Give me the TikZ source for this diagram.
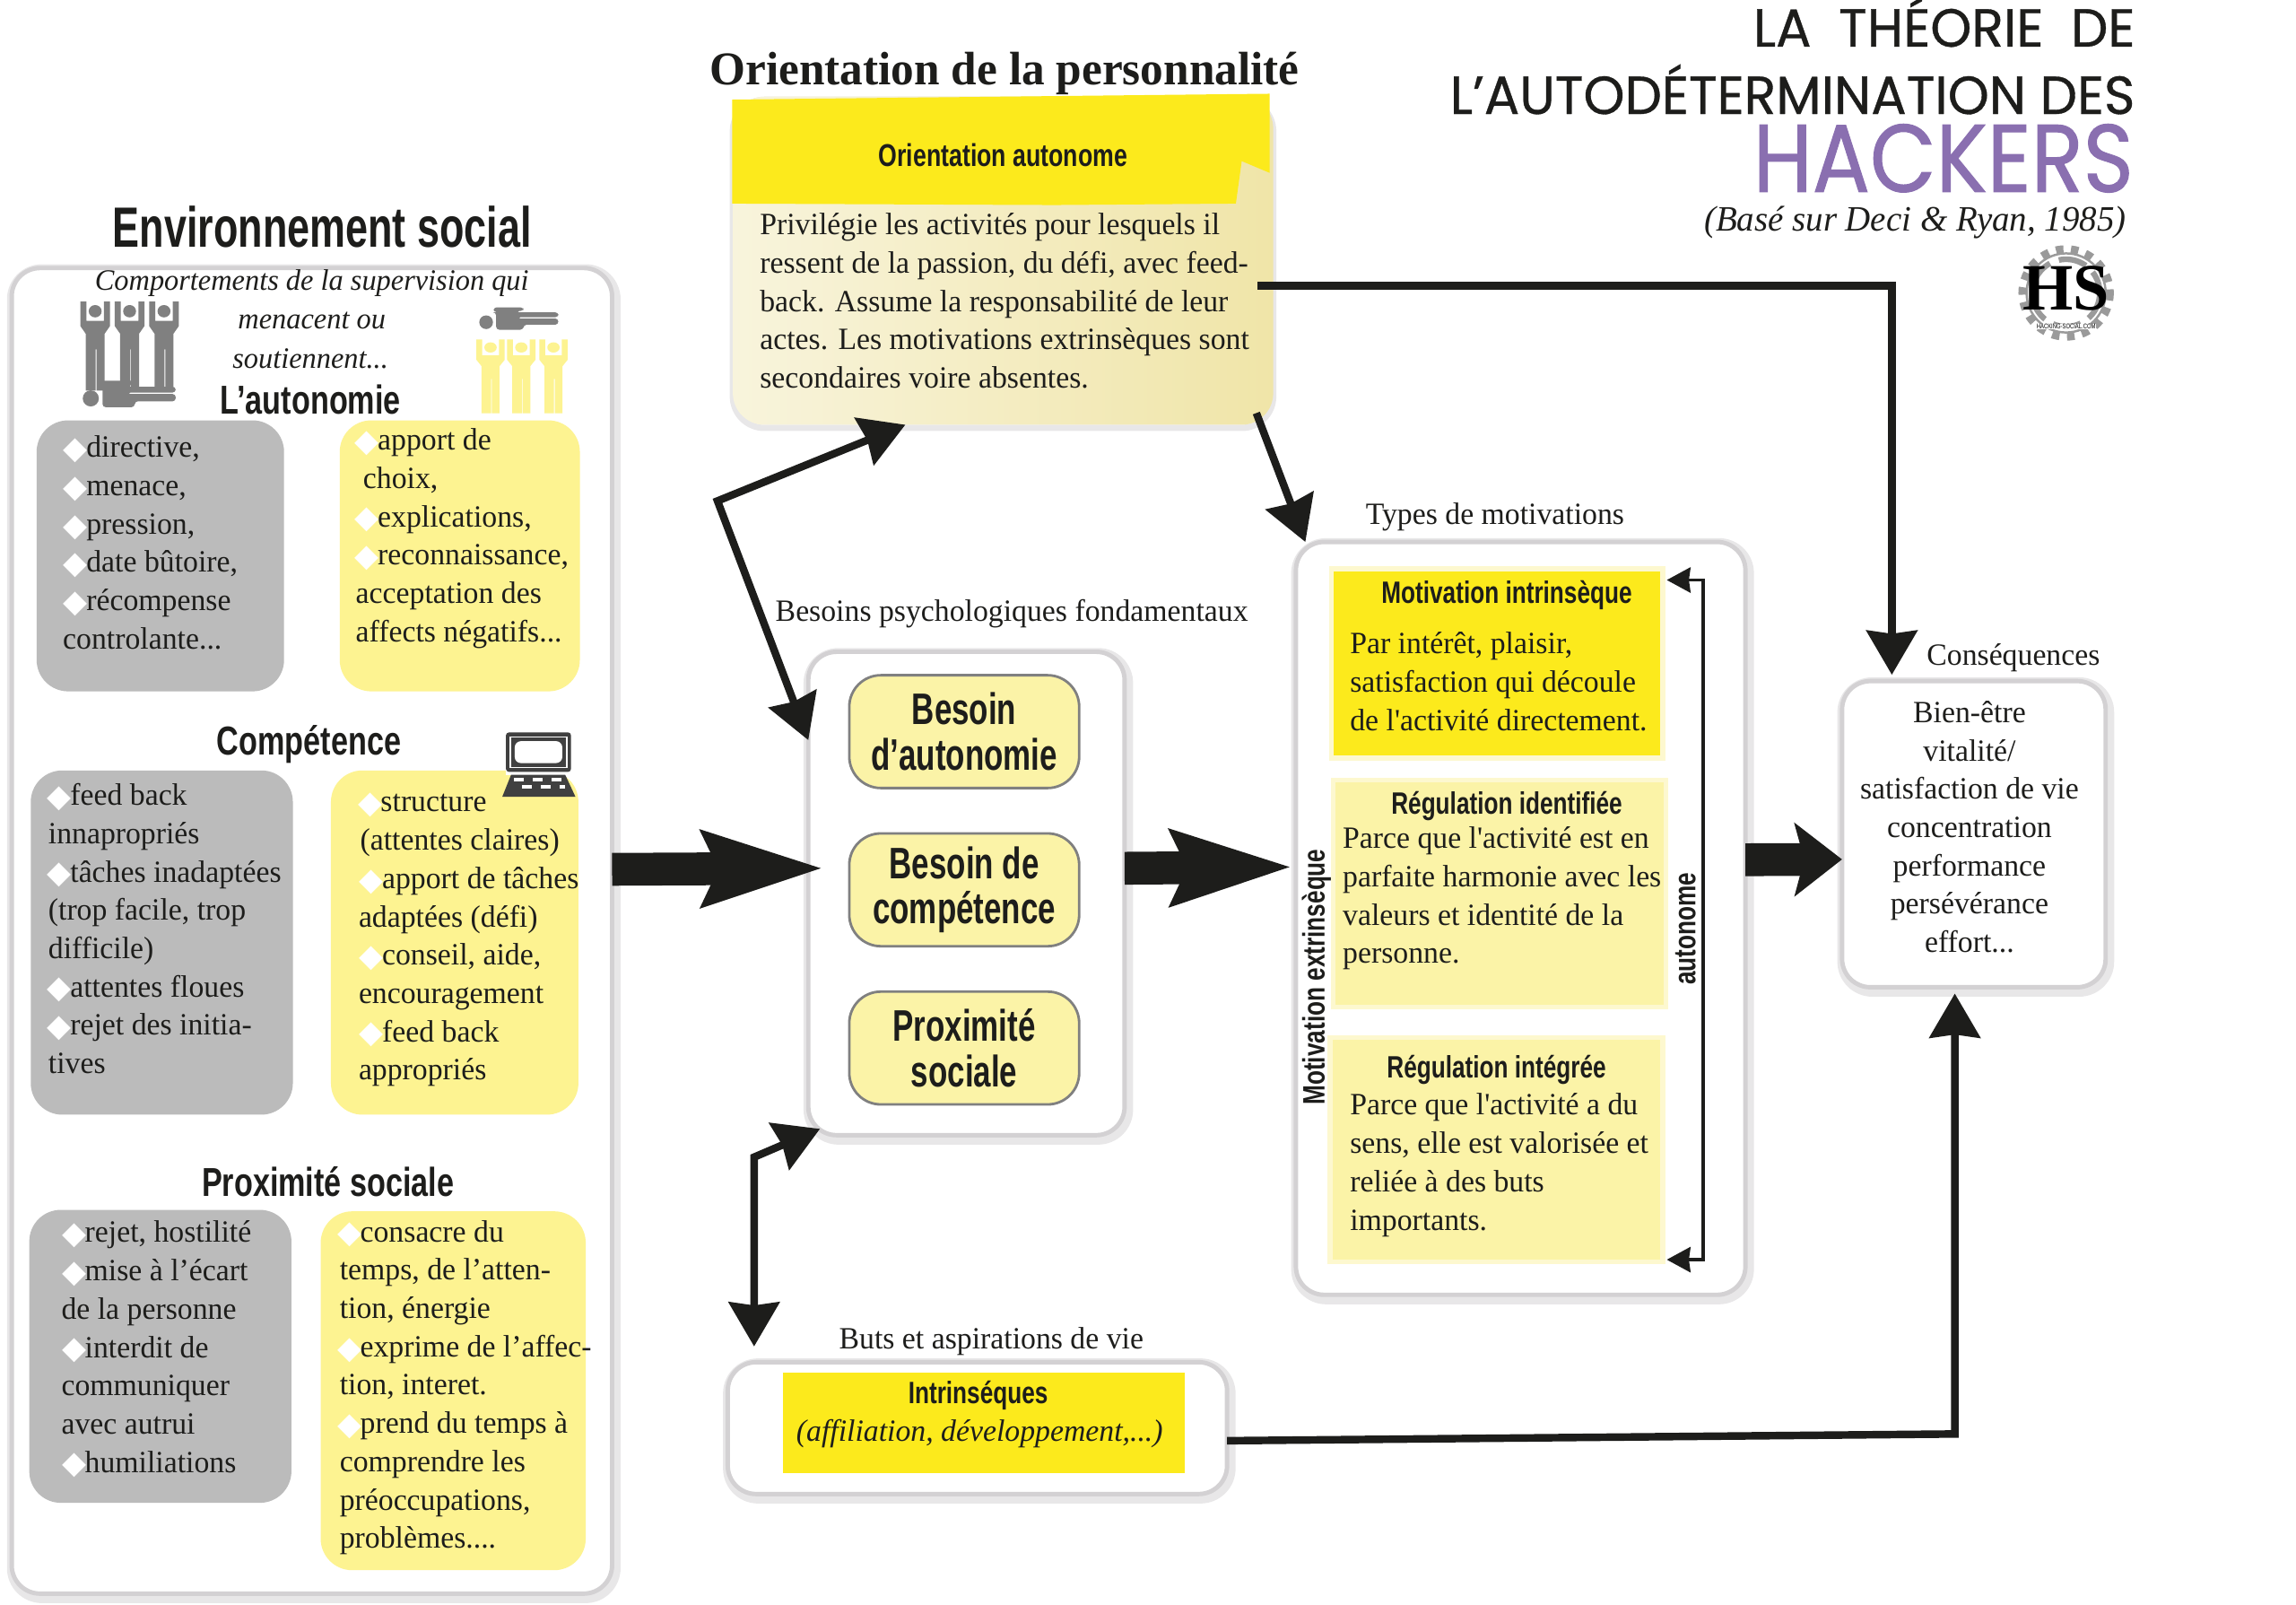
\documentclass[tikz,border=0pt]{standalone}
\usepackage{fontspec}
\usepackage{xcolor}
\usetikzlibrary{arrows.meta,positioning,shapes.geometric}
\newfontfamily\garafont[FakeStretch=0.98]{Liberation Serif}
\newfontfamily\condfont[FakeStretch=0.76]{Liberation Sans}
\newfontfamily\grascond[FakeStretch=0.71]{Liberation Sans}
\newfontfamily\titrefont[FakeStretch=0.98,FakeBold=0.6]{Poppins}
\newfontfamily\hackfont[FakeStretch=0.89,FakeBold=0.9]{Poppins}
\newfontfamily\symfont{DejaVu Sans}
\newlength{\pxu}
\setlength{\pxu}{0.46455pt}
\definecolor{encre}{HTML}{1D1D1B}
\definecolor{jaunevif}{HTML}{FCEA1C}
\definecolor{jaunepale}{HTML}{FDF391}
\definecolor{jaunesoft}{HTML}{FBF3A7}
\definecolor{grisbloc}{HTML}{BBBBBB}
\definecolor{grisicone}{HTML}{808080}
\definecolor{bordgris}{HTML}{D3D1D3}
\definecolor{bordclair}{HTML}{E8E7E8}
\definecolor{violet}{HTML}{8A6FB0}
\definecolor{fondclair}{HTML}{F8F4DC}
\definecolor{fondfonce}{HTML}{F0E5A8}
\newcommand{\corps}{\garafont\fontsize{9.8}{12.15}\selectfont}
\newcommand{\dec}[1]{\hspace*{#1\pxu}}
\newcommand{\puce}{\makebox[13\pxu][l]{\hspace*{-1.2pt}\raisebox{-0.5pt}{\symfont\fontsize{10}{10}\selectfont\textcolor{white}{◆}}}}
\tikzset{
  panneau/.style={rectangle, rounded corners=9pt, fill=white, draw=bordgris, line width=1.4pt,
    preaction={draw=bordclair, line width=4.2pt, transform canvas={xshift=0.6pt,yshift=-0.9pt}}},
  grisbox/.style={rectangle, rounded corners=10pt, fill=grisbloc},
  jaunebox/.style={rectangle, rounded corners=10pt, fill=jaunepale},
  besoinbox/.style={rectangle, rounded corners=10pt, fill=jaunesoft, draw=grisicone, line width=0.8pt,
    align=center, minimum width=157*\pxu, minimum height=77*\pxu,
    font=\grascond\bfseries\fontsize{14}{14.4}\selectfont},
  motivbox/.style={rectangle, preaction={draw=jaunesoft!55, line width=3pt}},
  titrecond/.style={font=\condfont\bfseries\fontsize{12.8}{14}\selectfont},
  souscond/.style={font=\condfont\bfseries\fontsize{9.8}{12}\selectfont},
  etiquette/.style={font=\corps},
  liste/.style={anchor=north west, align=left, font=\corps},
  grosse/.style={-{Stealth[length=38pt,width=23pt,inset=4.6pt]}, line width=10.4pt, draw=encre},
  moyenne/.style={-{Stealth[length=15pt,width=23pt,inset=3pt]}, line width=10.4pt, draw=encre},
  fine/.style={-{Stealth[length=14pt,width=16pt,inset=1pt]}, line width=2.4pt, draw=encre},
  double/.style={{Stealth[length=14pt,width=16pt,inset=1pt]}-{Stealth[length=14pt,width=16pt,inset=1pt]}, line width=2.4pt, draw=encre},
  crochet/.style={{Stealth[length=7.5pt,width=8pt,inset=0.5pt]}-{Stealth[length=7.5pt,width=8pt,inset=0.5pt]}, line width=1pt, draw=encre},
  pics/bonhomme/.style={code={
    \path[pic actions] (-11,1) -- (-6.5,1) -- (-6.5,16) -- (6.5,16) -- (6.5,1) -- (11,1) -- (11,20) -- (7,26)
      -- (7,70) -- (1,70) -- (1,38) -- (0.4,38) -- (0.4,70) -- (-7,70) -- (-7,26) -- (-11,20) -- cycle;
    \path[pic actions] (0,8.5) circle[radius=4.8];
  }},
  pics/gisant/.style={code={
    \path[pic actions] (0,0) circle[radius=5.5];
    \path[pic actions, rounded corners=1pt] (6,-12) -- (30,-12) -- (30,-9) -- (24,-9) -- (24,-8) -- (58,-8) -- (58,-4)
      -- (25,-4) -- (25,-3) -- (58,-3) -- (58,2) -- (30,2) -- (30,6) -- (8,6) -- (8,-8) -- (6,-8) -- cycle;
  }}
}
\begin{document}
\begin{tikzpicture}[x=0.016327cm, y=-0.016327cm, every node/.style={inner sep=0pt, outer sep=0pt, text=encre}]
\useasboundingbox (0,0) rectangle (1568,1095.7);

\node[font=\grascond\bfseries\fontsize{18}{20}\selectfont] (titreEnv) at (220,155) {Environnement social};
\node[panneau, minimum width=410*\pxu, minimum height=905*\pxu] (envir) at (213,635.5) {};
\node[etiquette, font=\garafont\itshape\fontsize{9.4}{12}\selectfont] (comport) at (213,193) {Comportements de la supervision qui};
\node[etiquette, font=\garafont\itshape\fontsize{9.4}{12}\selectfont] (menacent) at (213,219) {menacent ou};
\node[etiquette, font=\garafont\itshape\fontsize{9.4}{12}\selectfont] (soutiennent) at (212,245) {soutiennent...};
\pic[fill=grisicone, xscale=0.92, yscale=0.88] at (65,205) {bonhomme};
\pic[fill=grisicone, xscale=0.92, yscale=0.88] at (88.5,205) {bonhomme};
\pic[fill=grisicone, xscale=0.92, yscale=0.88] at (112,205) {bonhomme};
\pic[fill=grisicone] at (62,272) {gisant};
\pic[fill=grisicone, scale=0.85] at (332,220) {gisant};
\pic[fill=jaunepale, xscale=0.88, yscale=0.73] at (335,231) {bonhomme};
\pic[fill=jaunepale, xscale=0.88, yscale=0.73] at (356,231) {bonhomme};
\pic[fill=jaunepale, xscale=0.88, yscale=0.73] at (378,231) {bonhomme};
\node[titrecond] (autonomie) at (212,273) {L’autonomie};

\node[grisbox, minimum width=169*\pxu, minimum height=185*\pxu] (grisA) at (109.5,379.5) {};
\node[jaunebox, minimum width=164*\pxu, minimum height=185*\pxu] (jauneA) at (314,379.5) {};
\node[liste] (listeGrisA) at (43,294) {\strut\dec{3}\puce directive,\\\dec{3}\puce menace,\\\dec{3}\puce pression,\\\dec{3}\puce date bûtoire,\\\dec{3}\puce récompense\\controlante...};
\node[liste] (listeJauneA) at (243,289) {\strut\dec{2}\puce apport de\\\dec{5}choix,\\\dec{2}\puce explications,\\\dec{2}\puce reconnaissance,\\acceptation des\\affects négatifs...};

\node[titrecond] (competence) at (211,508) {Compétence};
\node[grisbox, minimum width=179*\pxu, minimum height=235*\pxu] (grisB) at (110.5,643.5) {};
\node[jaunebox, minimum width=169*\pxu, minimum height=235*\pxu] (jauneB) at (310.5,643.5) {};
\fill[white] (345.5,500) rectangle (390,529);
\fill[black!75, rounded corners=1pt] (345.5,500) rectangle (390,527);
\draw[white, line width=0.4pt] (348.5,503) rectangle (387,524);
\fill[white, rounded corners=2pt] (351.5,506) rectangle (384,521);
\fill[black!75] (349,529) -- (386,529) -- (393,544) -- (343,544) -- cycle;
\draw[white, line width=1.2pt, dash pattern=on 3pt off 3pt] (351,532.5) -- (385,532.5);
\draw[white, line width=1.2pt, dash pattern=on 3pt off 3pt, dash phase=3pt] (350,537) -- (386,537);
\node[liste] (listeGrisB) at (33,531.5) {\strut\dec{2}\puce feed back\\innapropriés\\\dec{2}\puce tâches inadaptées\\(trop facile, trop\\difficile)\\\dec{2}\puce attentes floues\\\dec{2}\puce rejet des initia-\\tives};
\node[liste] (listeJauneB) at (245,536) {\strut\dec{2}\puce structure\\\dec{1}(attentes claires)\\\dec{3}\puce apport de tâches\\adaptées (défi)\\\dec{3}\puce conseil, aide,\\encouragement\\\dec{3}\puce feed back\\appropriés};

\node[titrecond] (proximite) at (224,807) {Proximité sociale};
\node[grisbox, minimum width=179*\pxu, minimum height=200*\pxu] (grisC) at (109.5,926) {};
\node[jaunebox, minimum width=181*\pxu, minimum height=245*\pxu] (jauneC) at (309.5,949.5) {};
\node[liste] (listeGrisC) at (42,830) {\strut\dec{3}\puce rejet, hostilité\\\dec{3}\puce mise à l’écart\\de la personne\\\dec{3}\puce interdit de\\communiquer\\avec autrui\\\dec{3}\puce humiliations};
\node[liste] (listeJauneC) at (232,829.5) {\strut\dec{1}\puce consacre du\\temps, de l’atten-\\tion, énergie\\\dec{1}\puce exprime de l’affec-\\tion, interet.\\\dec{1}\puce prend du temps à\\comprendre les\\préoccupations,\\problèmes....};

\node[font=\garafont\bfseries\fontsize{14.9}{17}\selectfont] (titreOrient) at (686,50) {Orientation de la personnalité};
\node[rectangle, rounded corners=10pt, left color=fondclair, right color=fondfonce, minimum width=369*\pxu, minimum height=224*\pxu,
  preaction={draw=bordclair, line width=2pt, transform canvas={yshift=-1pt}}] (orient) at (685,178) {};
\fill[jaunevif] (500,68) -- (867,64) -- (867,118) -- (848,110) -- (844,139) -- (720,140) -- (500,139) -- cycle;
\node[souscond, font=\condfont\bfseries\fontsize{10}{12}\selectfont] (orientAuto) at (685,106) {Orientation autonome};
\node[liste] (texteOrient) at (519,142) {\strut Privilégie les activités pour lesquels il\\ressent de la passion, du défi, avec feed-\\back. Assume la responsabilité de leur\\actes. Les motivations extrinsèques sont\\secondaires voire absentes.};

\node[etiquette] (labelBesoins) at (691,419) {Besoins psychologiques fondamentaux};
\node[panneau, minimum width=216*\pxu, minimum height=330*\pxu] (besoins) at (660,610) {};
\node[besoinbox] (besoinA) at (658.5,499.5) {Besoin\\d’autonomie};
\node[besoinbox, below=31*\pxu of besoinA] (besoinB) {Besoin de\\compétence};
\node[besoinbox, below=31*\pxu of besoinB] (besoinC) {Proximité\\sociale};

\node[etiquette] (labelTypes) at (1021,353) {Types de motivations};
\node[panneau, minimum width=307*\pxu, minimum height=514*\pxu] (types) at (1038.5,627) {};
\node[motivbox, fill=jaunevif, minimum width=223*\pxu, minimum height=126*\pxu] (motivA) at (1022.5,453) {};
\node[motivbox, fill=jaunesoft, minimum width=224*\pxu, minimum height=152*\pxu] (motivB) at (1024,610) {};
\node[motivbox, fill=jaunesoft, minimum width=224*\pxu, minimum height=150*\pxu] (motivC) at (1022,785) {};
\node[souscond] (tMotivA) at (1029,406.5) {Motivation intrinsèque};
\node[liste] (txtMotivA) at (922,428) {\strut Par intérêt, plaisir,\\satisfaction qui découle\\de l'activité directement.};
\node[souscond] (tMotivB) at (1029,550.5) {Régulation identifiée};
\node[liste] (txtMotivB) at (917,561) {\strut Parce que l'activité est en\\parfaite harmonie avec les\\valeurs et identité de la\\personne.};
\node[souscond] (tMotivC) at (1022,730.5) {Régulation intégrée};
\node[liste] (txtMotivC) at (922,743) {\strut Parce que l'activité a du\\sens, elle est valorisée et\\reliée à des buts\\importants.};
\node[souscond, rotate=90] (extrins) at (899,667) {Motivation extrinsèque};
\coordinate (crochetA) at (1163,396);
\coordinate (crochetB) at (1163,860);
\draw[crochet] ([xshift=2pt]motivA.east |- crochetA) -- (crochetA) -- (crochetB) -- ([xshift=2pt]motivC.east |- crochetB);
\node[souscond, rotate=90] (auton) at (1151,634) {autonome};

\node[etiquette] (labelConseq) at (1375,449) {Conséquences};
\node[panneau, minimum width=180*\pxu, minimum height=209*\pxu] (conseq) at (1348,569.5) {};
\node[font=\corps, align=center, anchor=north] (txtConseq) at (1345,475) {\strut Bien-être\\vitalité/\\satisfaction de vie\\concentration\\performance\\persévérance\\effort...};

\node[etiquette] (labelButs) at (677,916) {Buts et aspirations de vie};
\node[panneau, minimum width=341*\pxu, minimum height=90*\pxu] (buts) at (667.5,975) {};
\node[rectangle, fill=jaunevif, minimum width=274*\pxu, minimum height=69*\pxu] (butsJaune) at (672,971.5) {};
\node[souscond] (tButs) at (668,952.5) {Intrinséques};
\node[font=\corps\itshape] (txtButs) at (669,978.5) {(affiliation, développement,...)};

\node[anchor=east, font=\titrefont\fontsize{17}{17}\selectfont] (titreA) at (1458,15) {LA\hspace{0.25em} THÉORIE\hspace{0.25em} DE};
\node[anchor=east, font=\titrefont\fontsize{17}{17}\selectfont] (titreB) at (1458,61) {L’AUTODÉTERMINATION DES};
\node[anchor=base east, text=violet, text height=22pt, text depth=0pt, font=\hackfont\fontsize{30.5}{30.5}\selectfont] (titreC) at (1457,131) {HACKERS};
\node[anchor=east, font=\garafont\itshape\fontsize{11.3}{13}\selectfont] (titreD) at (1452,152) {(Basé sur Deci \& Ryan, 1985)};

\draw[grisicone!80, line width=2.4pt, dash pattern=on 2.4pt off 2.4pt] (1411,200) circle[radius=30];
\draw[grisicone!80, line width=0.7pt] (1411,200) circle[radius=27];
\draw[grisicone!80, line width=1.8pt, dash pattern=on 9pt off 3pt] (1411,200) circle[radius=23];
\node[font=\garafont\bfseries\fontsize{21}{21}\selectfont, text=black] (logoHS) at (1411,197) {HS};
\node[font=\condfont\fontsize{2.2}{2.2}\selectfont, text=black, fill=white] (logoNom) at (1411,223) {HACKING-SOCIAL.COM};

\coordinate (coudeA) at (1292,195);
\coordinate (coudeB) at (490,342);
\coordinate (coudeC) at (515,790);
\coordinate (coudeD) at (1335,979);
\coordinate (sortieO) at (858,282);
\draw[grosse] ([yshift=19.5pt]envir.east) -- ([shift={(5pt,8pt)}]besoins.west);
\draw[grosse] ([yshift=8pt]besoins.east) -- ([shift={(-1pt,16.3pt)}]types.west);
\draw[moyenne] ([yshift=18.6pt]types.east) -- ([yshift=-8pt]conseq.west);
\draw[fine] ([xshift=-5pt]orient.east |- coudeA) -- (coudeA) -- ([yshift=2pt]conseq.north -| coudeA);
\draw[fine] (sortieO) -- ([xshift=3pt]types.north west);
\draw[double] ([xshift=-31pt]orient.south) -- (coudeB) -- ([yshift=-28pt]besoins.north west);
\draw[double] ([shift={(3.7pt,2pt)}]besoins.south west) -- (coudeC) -- ([yshift=5pt]buts.north -| coudeC);
\draw[fine] ([yshift=-4pt]buts.east) -- (coudeD) -- ([yshift=-2pt]conseq.south -| coudeD);
\end{tikzpicture}
\end{document}
